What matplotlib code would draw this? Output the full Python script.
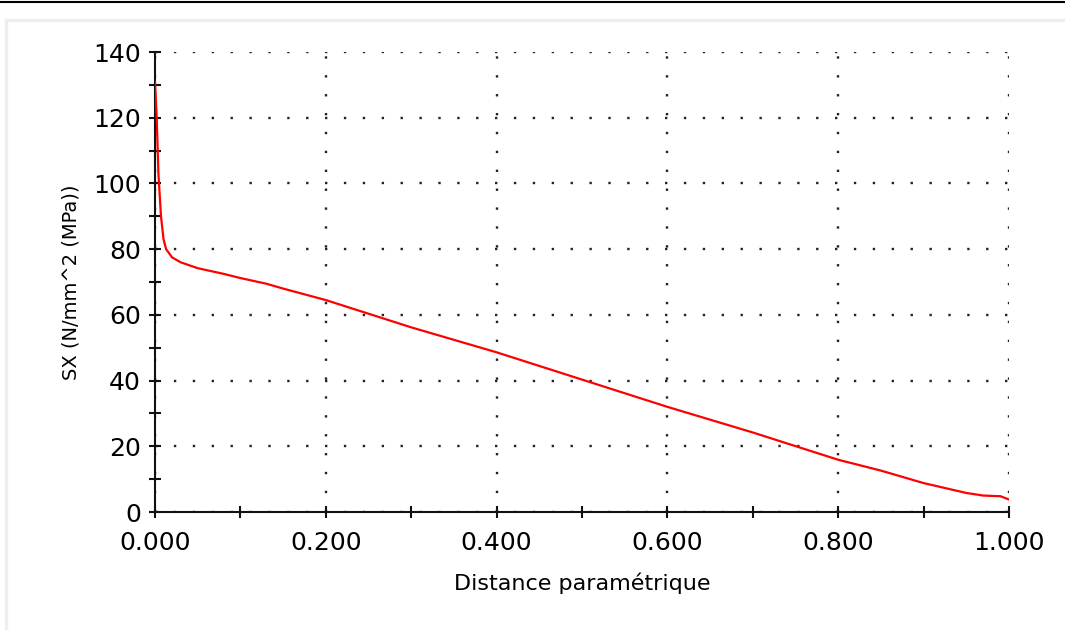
import matplotlib
matplotlib.use("Agg")
import matplotlib.pyplot as plt
from matplotlib.ticker import MultipleLocator, FormatStrFormatter
from matplotlib.lines import Line2D

# Values
distance = [0.000, 0.002, 0.004, 0.007, 0.010, 0.013, 0.020, 0.030, 0.050,
            0.080, 0.100, 0.130, 0.150, 0.200, 0.300, 0.400, 0.500, 0.600,
            0.700, 0.800, 0.850, 0.900, 0.950, 0.970, 0.990, 1.000]
sx = [131.0, 120.0, 103.0, 90.0, 83.0, 80.0, 77.5, 76.0, 74.2,
      72.5, 71.2, 69.5, 68.0, 64.5, 56.2, 48.6, 40.3, 32.0,
      24.2, 15.9, 12.6, 8.8, 5.8, 5.0, 4.8, 3.8]

x_label = "Distance paramétrique"
y_label = "SX (N/mm^2 (MPa))"

fig = plt.figure(figsize=(10.65, 6.3), dpi=100)
fig.patch.set_facecolor("white")

# window frame bits: black line at top, light grey bevel top/left
fig.add_artist(Line2D([0, 1], [1 - 1.5 / 630, 1 - 1.5 / 630], color="black", lw=1.5,
                      transform=fig.transFigure))
fig.add_artist(Line2D([5.5 / 1065, 1], [1 - 19.5 / 630, 1 - 19.5 / 630], color="#eeeeee",
                      lw=2.5, transform=fig.transFigure))
fig.add_artist(Line2D([5.5 / 1065, 5.5 / 1065], [0, 1 - 19.5 / 630], color="#eeeeee",
                      lw=2.5, transform=fig.transFigure))

ax = fig.add_axes([155 / 1065, 118 / 630, 854 / 1065, 460 / 630])
ax.plot(distance, sx, color="#ff0000", lw=1.6, zorder=3)

ax.set_xlim(0, 1)
ax.set_ylim(0, 140)
ax.xaxis.set_major_locator(MultipleLocator(0.2))
ax.xaxis.set_minor_locator(MultipleLocator(0.1))
ax.yaxis.set_major_locator(MultipleLocator(20))
ax.yaxis.set_minor_locator(MultipleLocator(10))
ax.xaxis.set_major_formatter(FormatStrFormatter("%.3f"))

for side in ["top", "right"]:
    ax.spines[side].set_visible(False)
for side in ["left", "bottom"]:
    ax.spines[side].set_linewidth(1.5)
    ax.spines[side].set_color("#111111")

ax.tick_params(which="both", direction="inout", length=8, width=1.5, color="#111111")
ax.tick_params(which="major", labelsize=18, pad=6)
ax.tick_params(axis="x", which="major", pad=10)

ax.grid(which="major", color="#222222", linestyle=(0, (1, 7)), linewidth=1.7)

ax.set_xlabel(x_label, fontsize=16, labelpad=12)
ax.set_ylabel(y_label, fontsize=14, labelpad=9)

fig.savefig("out.png", dpi=100)
